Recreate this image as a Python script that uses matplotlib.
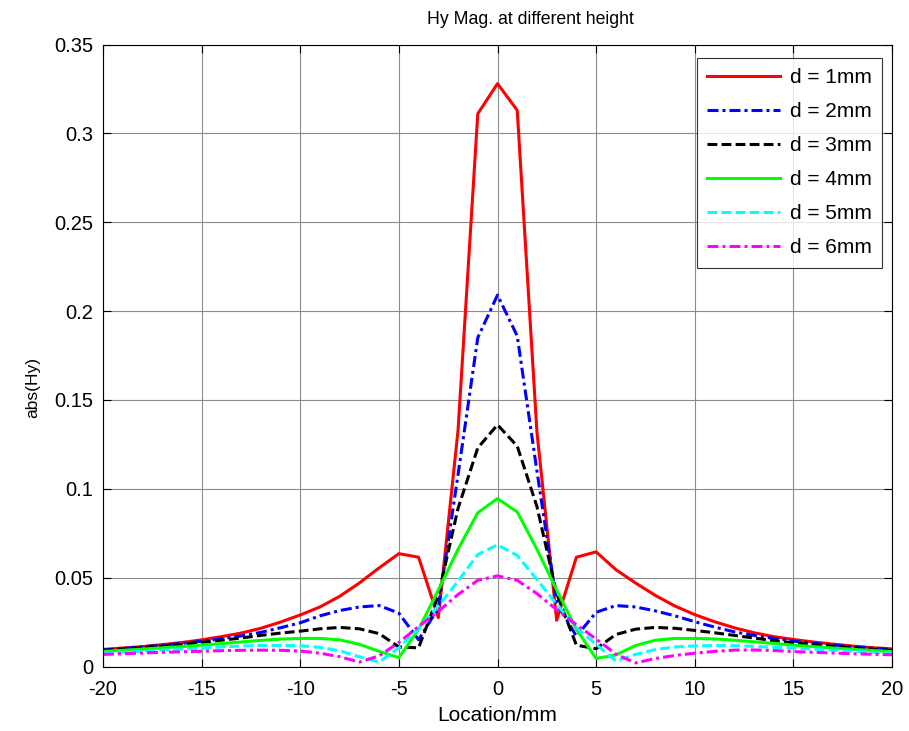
import matplotlib
matplotlib.use("Agg")
import matplotlib.pyplot as plt
import numpy as np

x = list(range(-20, 21))

d1 = [0.0096, 0.0104, 0.0112, 0.0123, 0.0135, 0.0150, 0.0168, 0.0188, 0.0215, 0.0250,
      0.0290, 0.0335, 0.0395, 0.0470, 0.0555, 0.0635, 0.0615, 0.0275, 0.133, 0.311,
      0.328,
      0.313, 0.132, 0.026, 0.0615, 0.0645, 0.0545, 0.0470, 0.0400, 0.0340, 0.0292,
      0.0252, 0.0218, 0.0190, 0.0168, 0.0152, 0.0138, 0.0126, 0.0115, 0.0106, 0.0099]

d2 = [0.0093, 0.0101, 0.0110, 0.0120, 0.0130, 0.0142, 0.0156, 0.0172, 0.0192, 0.0218,
      0.0246, 0.0285, 0.0315, 0.0335, 0.0343, 0.0300, 0.0150, 0.0330, 0.108, 0.185,
      0.209,
      0.186, 0.110, 0.036, 0.0170, 0.0305, 0.0343, 0.0335, 0.0313, 0.0285, 0.0252,
      0.0222, 0.0195, 0.0175, 0.0158, 0.0143, 0.0131, 0.0121, 0.0111, 0.0103, 0.0096]

d3 = [0.0090, 0.0098, 0.0106, 0.0114, 0.0124, 0.0136, 0.0148, 0.0160, 0.0175, 0.0188,
      0.0199, 0.0212, 0.0220, 0.0212, 0.0185, 0.0110, 0.0105, 0.040, 0.089, 0.123,
      0.136,
      0.124, 0.090, 0.041, 0.0120, 0.0100, 0.0180, 0.0210, 0.0220, 0.0215, 0.0203,
      0.0190, 0.0175, 0.0160, 0.0146, 0.0133, 0.0123, 0.0114, 0.0105, 0.0097, 0.0090]

d4 = [0.0085, 0.0091, 0.0098, 0.0105, 0.0112, 0.0120, 0.0129, 0.0138, 0.0147, 0.0154,
      0.0158, 0.0158, 0.0150, 0.0125, 0.0085, 0.0050, 0.021, 0.043, 0.066, 0.0865,
      0.0945,
      0.087, 0.066, 0.043, 0.021, 0.0045, 0.0065, 0.0118, 0.0148, 0.0158, 0.0158,
      0.0155, 0.0148, 0.0139, 0.0130, 0.0120, 0.0112, 0.0104, 0.0097, 0.0090, 0.0084]

d5 = [0.0075, 0.0080, 0.0086, 0.0092, 0.0098, 0.0104, 0.0110, 0.0115, 0.0118, 0.0119,
      0.0117, 0.0108, 0.0088, 0.0055, 0.0025, 0.0105, 0.0215, 0.034, 0.048, 0.063,
      0.0685,
      0.0625, 0.049, 0.035, 0.022, 0.0125, 0.0030, 0.0068, 0.0095, 0.0110, 0.0116,
      0.0118, 0.0117, 0.0113, 0.0108, 0.0104, 0.0098, 0.0092, 0.0086, 0.0080, 0.0076]

d6 = [0.0068, 0.0072, 0.0076, 0.0080, 0.0083, 0.0086, 0.0089, 0.0091, 0.0092, 0.0091,
      0.0087, 0.0075, 0.0055, 0.0025, 0.0060, 0.0135, 0.0225, 0.031, 0.0405, 0.0485,
      0.051,
      0.0485, 0.041, 0.032, 0.0235, 0.0155, 0.0070, 0.0020, 0.0045, 0.0062, 0.0075,
      0.0085, 0.0092, 0.0093, 0.0090, 0.0084, 0.0080, 0.0076, 0.0072, 0.0069, 0.0066]

labels = ["d = 1mm", "d = 2mm", "d = 3mm", "d = 4mm", "d = 5mm", "d = 6mm"]
xticks = [-20, -15, -10, -5, 0, 5, 10, 15, 20]
xticklabels = ["-20", "-15", "-10", "-5", "0", "5", "10", "15", "20"]
yticks = [0, 0.05, 0.1, 0.15, 0.2, 0.25, 0.3, 0.35]
yticklabels = ["0", "0.05", "0.1", "0.15", "0.2", "0.25", "0.3", "0.35"]

plt.rcParams['font.family'] = ['Liberation Sans', 'DejaVu Sans']
plt.rcParams['axes.unicode_minus'] = False

fig = plt.figure(figsize=(9.09, 7.31), dpi=100)
L, R, T, B = 103, 892, 44.5, 666.5
W, H = R - L, B - T
ax = fig.add_axes([L/909, 1 - B/731, W/909, H/731])

dashdot = (0, (3.6, 1.3, 1.0, 1.3))
dashed = (0, (3.2, 1.4))
styles = [
    dict(color='#ff0000', linestyle='-'),
    dict(color='#0000ff', linestyle=dashdot),
    dict(color='#000000', linestyle=dashed),
    dict(color='#00ff00', linestyle='-'),
    dict(color='#00ffff', linestyle=dashed),
    dict(color='#ff00ff', linestyle=dashdot),
]
for ys, lab, st in zip([d1, d2, d3, d4, d5, d6], labels, styles):
    ax.plot(x, ys, label=lab, linewidth=2.2, **st)

ax.set_xlim(-20, 20)
ax.set_ylim(0, 0.35)
ax.set_xticks(xticks)
ax.set_xticklabels(xticklabels)
ax.set_yticks(yticks)
ax.set_yticklabels(yticklabels)
ax.grid(True, color='#8c8c8c', linewidth=0.8, linestyle='-')
ax.set_axisbelow(True)
ax.tick_params(direction='in', length=6, width=0.8, top=True, right=True,
               labelsize=14.5)
ax.tick_params(axis='x', pad=10)
ax.tick_params(axis='y', pad=7)
for s in ax.spines.values():
    s.set_linewidth(0.8)

ax.set_title("Hy Mag. at different height", fontsize=12.7, pad=15,
             x=(530 - L)/W)
ax.set_xlabel("Location/mm", fontsize=15)
ax.xaxis.set_label_coords(0.5, -(706 - B)/H)
ax.set_ylabel("abs(Hy)", fontsize=12.5)
ax.yaxis.set_label_coords((40 - L)/W, (B - 388)/H)

leg = ax.legend(loc='upper right',
                bbox_to_anchor=((882 - L)/W, (B - 58)/H),
                borderaxespad=0, fontsize=15, frameon=True, fancybox=False,
                edgecolor='black', handlelength=3.5, borderpad=0.5,
                labelspacing=0.72, handletextpad=0.45)
leg.get_frame().set_linewidth(0.8)

fig.savefig("out.png", dpi=100)
